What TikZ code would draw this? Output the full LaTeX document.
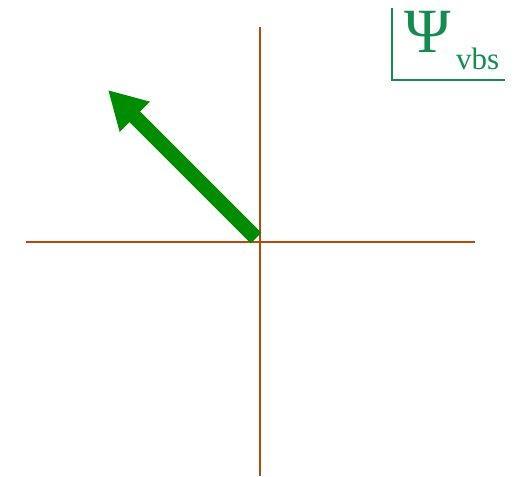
\documentclass[tikz,border=0pt]{standalone}
\usepackage{fontspec}
\setmainfont{Liberation Serif}
\usetikzlibrary{arrows.meta}
\definecolor{axiscol}{RGB}{178,74,10}
\definecolor{vecgreen}{RGB}{0,140,0}
\definecolor{labgreen}{RGB}{20,140,80}
\tikzset{
  axisline/.style={draw=axiscol, line width=2.2pt},
  vecline/.style={draw=vecgreen, line width=15pt, -{Triangle[length=38pt,width=40pt]}},
  labline/.style={draw=labgreen, line width=2pt},
}
\begin{document}
\begin{tikzpicture}[x=1pt,y=-1pt]
\useasboundingbox (0,0) rectangle (526,476);
\coordinate (hl) at (26,242);
\coordinate (hr) at (475,242);
\coordinate (vt) at (260,27);
\coordinate (vb) at (260,476);
\draw[axisline] (hl) -- (hr);
\draw[axisline] (vt) -- (vb);
\coordinate (vs) at (256,238);
\coordinate (ve) at (108,90);
\draw[vecline] (vs) -- (ve);
\coordinate (lt) at (392,8);
\coordinate (lc) at (392,80);
\coordinate (lr) at (505,80);
\draw[labline] (lt) -- (lc) -- (lr);
\node[text=labgreen, font=\fontsize{63}{65}\selectfont, anchor=base west, inner sep=0pt] (psi) at (404,53) {Ψ};
\node[text=labgreen, font=\fontsize{31}{33}\selectfont, anchor=base west, inner sep=0pt] (vbs) at (456,70) {vbs};
\end{tikzpicture}
\end{document}
